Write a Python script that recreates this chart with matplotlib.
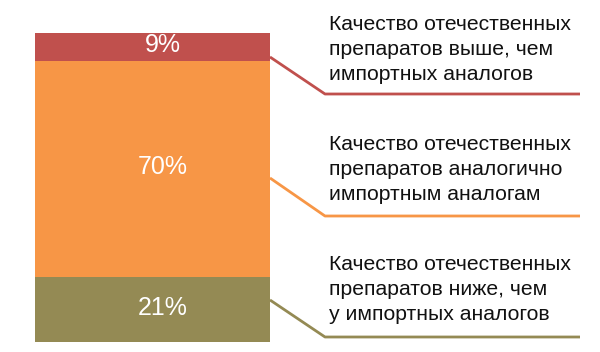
import matplotlib
matplotlib.use("Agg")
import matplotlib.pyplot as plt

plt.rcParams['font.family'] = ['Liberation Sans', 'DejaVu Sans']

# Data
shares = [21, 70, 9]  # bottom -> top
pct_labels = ["21%", "70%", "9%"]
colors = ["#948A54", "#F79646", "#C0504D"]
descriptions = [
    ["Качество отечественных", "препаратов ниже, чем", "у импортных аналогов"],
    ["Качество отечественных", "препаратов аналогично", "импортным аналогам"],
    ["Качество отечественных", "препаратов выше, чем", "импортных аналогов"],
]

fig = plt.figure(figsize=(6.0, 3.52), dpi=100)
# axes: y in percent (0..100) spans pixel rows 342..33; x in pixel-like units 0..600
ax = fig.add_axes([0, 10 / 352, 1, 309 / 352])
ax.set_xlim(0, 600)
ax.set_ylim(0, 100)
ax.axis('off')

bar_left, bar_w = 35, 235
bottom = 0
for v, lab, c, desc in zip(shares, pct_labels, colors, descriptions):
    ax.bar(bar_left, v, width=bar_w, bottom=bottom, color=c, align='edge',
           edgecolor='none')
    mid = bottom + v / 2
    ax.text(bar_left + bar_w / 2 + 10, mid + 0.6, lab, color='white',
            fontsize=18, ha='center', va='center')
    bottom += v

# connector lines & descriptions (in percent-scale coordinates)
px = lambda py: (342 - py) / 309 * 100
connectors = [(300, 337, 270), (178, 216, 150), (57, 94, 30)]
for (start_py, line_py, base_py), c, desc in zip(connectors, colors, descriptions):
    ax.plot([270, 325, 580], [px(start_py), px(line_py), px(line_py)],
            color=c, lw=2, clip_on=False, solid_capstyle='butt')
    for i, line in enumerate(desc):
        ax.text(329, px(base_py + 25 * i), line, fontsize=15.2, color='#111111',
                ha='left', va='baseline')

fig.savefig("out.png", dpi=100)
